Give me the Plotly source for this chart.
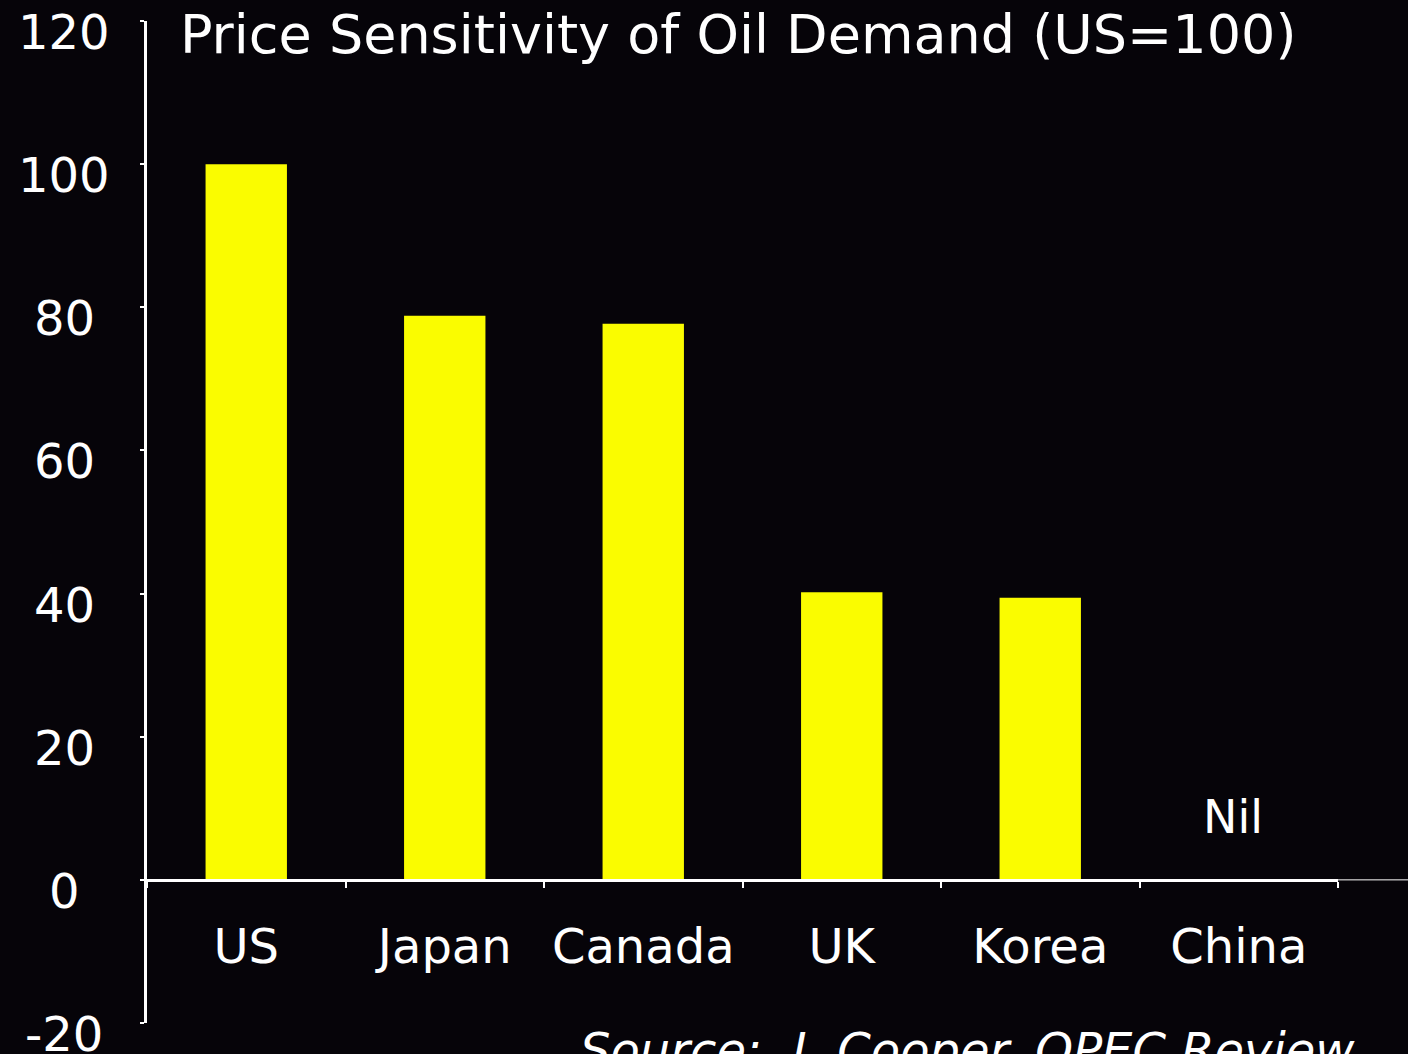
import plotly.graph_objects as go

# data
countries = ["US", "Japan", "Canada", "UK", "Korea", "China"]
sensitivity = [100, 78.8, 77.7, 40.2, 39.4, 0]
y_ticks = [-20, 0, 20, 40, 60, 80, 100, 120]
nil_label = "Nil"
nil_height = 8.8

bg = "#060409"
font_family = "DejaVu Sans"

fig = go.Figure()
fig.add_trace(go.Bar(x=countries, y=sensitivity, marker_color="#FAFC00",
                     marker_line_width=0, width=0.41))

# y tick labels as annotations, nudged down like the slide
for t in y_ticks:
    fig.add_annotation(x=0, xref="paper", y=t, yref="y", text=str(t),
                       showarrow=False, xanchor="center", xshift=-83, yshift=-11,
                       font=dict(size=48, color="white", family=font_family))

fig.add_annotation(x="China", y=nil_height, text=nil_label, showarrow=False,
                   xshift=-6, font=dict(size=46, color="white", family=font_family))

fig.add_annotation(x=0.026, xref="paper", y=1, yref="paper", yshift=-13,
                   text="Price Sensitivity of Oil Demand (US=100)", showarrow=False,
                   xanchor="left", yanchor="middle",
                   font=dict(size=54, color="white", family=font_family))

fig.add_annotation(x=0.362, xref="paper", y=0, yref="paper", yshift=3,
                   text="<i>Source:  J. Cooper, OPEC Review</i>", showarrow=False,
                   xanchor="left", yanchor="top",
                   font=dict(size=48, color="white", family=font_family))

# thin continuation of the zero line past the last category
fig.add_shape(type="line", xref="paper", yref="y", x0=1, x1=1.06, y0=0, y1=0,
              line=dict(color="white", width=1))

fig.update_layout(
    width=1408, height=1054,
    paper_bgcolor=bg, plot_bgcolor=bg,
    margin=dict(l=147, r=70, t=21, b=31),
    showlegend=False,
    font=dict(family=font_family, color="white"),
    xaxis=dict(anchor="free", position=20 / 140, showline=True, linecolor="white",
               linewidth=3, ticks="outside", tickson="boundaries", ticklen=6,
               tickwidth=2, tickcolor="white", showgrid=False,
               tickfont=dict(size=48, color="white", family=font_family),
               ticklabelstandoff=24),
    yaxis=dict(range=[-20, 120], tickvals=y_ticks, showticklabels=False,
               showline=True, linecolor="white", linewidth=3, ticks="outside",
               ticklen=4, tickwidth=2, tickcolor="white", showgrid=False,
               zeroline=False),
)

fig.write_html("out.html", config={"displayModeBar": False},
               post_script="document.body.style.margin='0';document.body.style.background='%s';" % bg)
